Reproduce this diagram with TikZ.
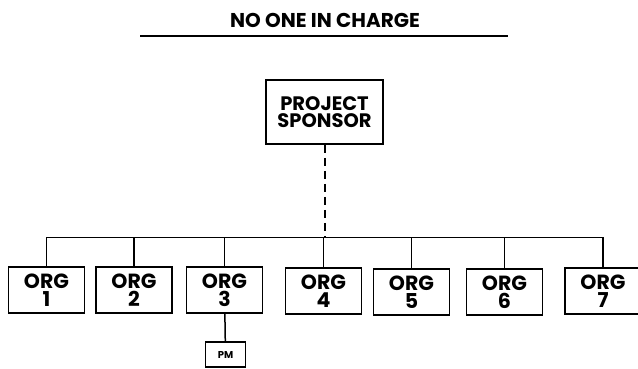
\documentclass[tikz,border=0pt]{standalone}
\usepackage{fontspec}
\setmainfont{Poppins}
\begin{document}
\begin{tikzpicture}[
        x=1pt, y=-1pt,
        line width=1.5pt,
        orgbox/.style={draw, minimum width=76pt, minimum height=46pt, inner sep=0pt, align=center, font=\fontsize{20.5}{18}\selectfont\bfseries},
        topbox/.style={draw, minimum width=117pt, minimum height=64pt, inner sep=0pt, align=center, font=\fontsize{19.5}{17}\selectfont\bfseries},
        pmbox/.style={draw, minimum width=40pt, minimum height=25pt, inner sep=0pt, font=\fontsize{10}{10}\selectfont\bfseries},
        link/.style={draw, line width=1.5pt},
        dashlink/.style={draw, line width=2pt, dash pattern=on 8pt off 5pt},
    ]
    \useasboundingbox (0,0) rectangle (638,368);
    \node[font=\fontsize{20}{20}\selectfont\bfseries](title) at (325,20){NO ONE IN CHARGE};
    \coordinate (ruleL) at (140,36);
    \coordinate (ruleR) at (508,36);
    \draw[line width=1.6pt] (ruleL) -- (ruleR);
    \node[topbox](sponsor) at (324.5,112){PROJECT\\SPONSOR};
    \coordinate (bus) at (0,237.5);
    \node[orgbox](org1) at (46.5,290){ORG\\1};
    \node[orgbox](org2) at (134,290){ORG\\2};
    \node[orgbox](org3) at (224.5,290){ORG\\3};
    \node[orgbox](org4) at (323.5,291){ORG\\4};
    \node[orgbox](org5) at (411.5,292){ORG\\5};
    \node[orgbox](org6) at (504.5,292){ORG\\6};
    \node[orgbox](org7) at (603,291){ORG\\7};
    \node[pmbox](pm) at (225.5,354.5){PM};
    \draw[dashlink] (sponsor) -- (sponsor |- bus);
    \draw[link] (org1) -- (org1 |- bus) -- (org7 |- bus) -- (org7);
    \draw[link] (org2) -- (org2 |- bus);
    \draw[link] (org3) -- (org3 |- bus);
    \draw[link] (org4) -- (org4 |- bus);
    \draw[link] (org5) -- (org5 |- bus);
    \draw[link] (org6) -- (org6 |- bus);
    \draw[link] (org3) -- (pm);
\end{tikzpicture}
\end{document}
